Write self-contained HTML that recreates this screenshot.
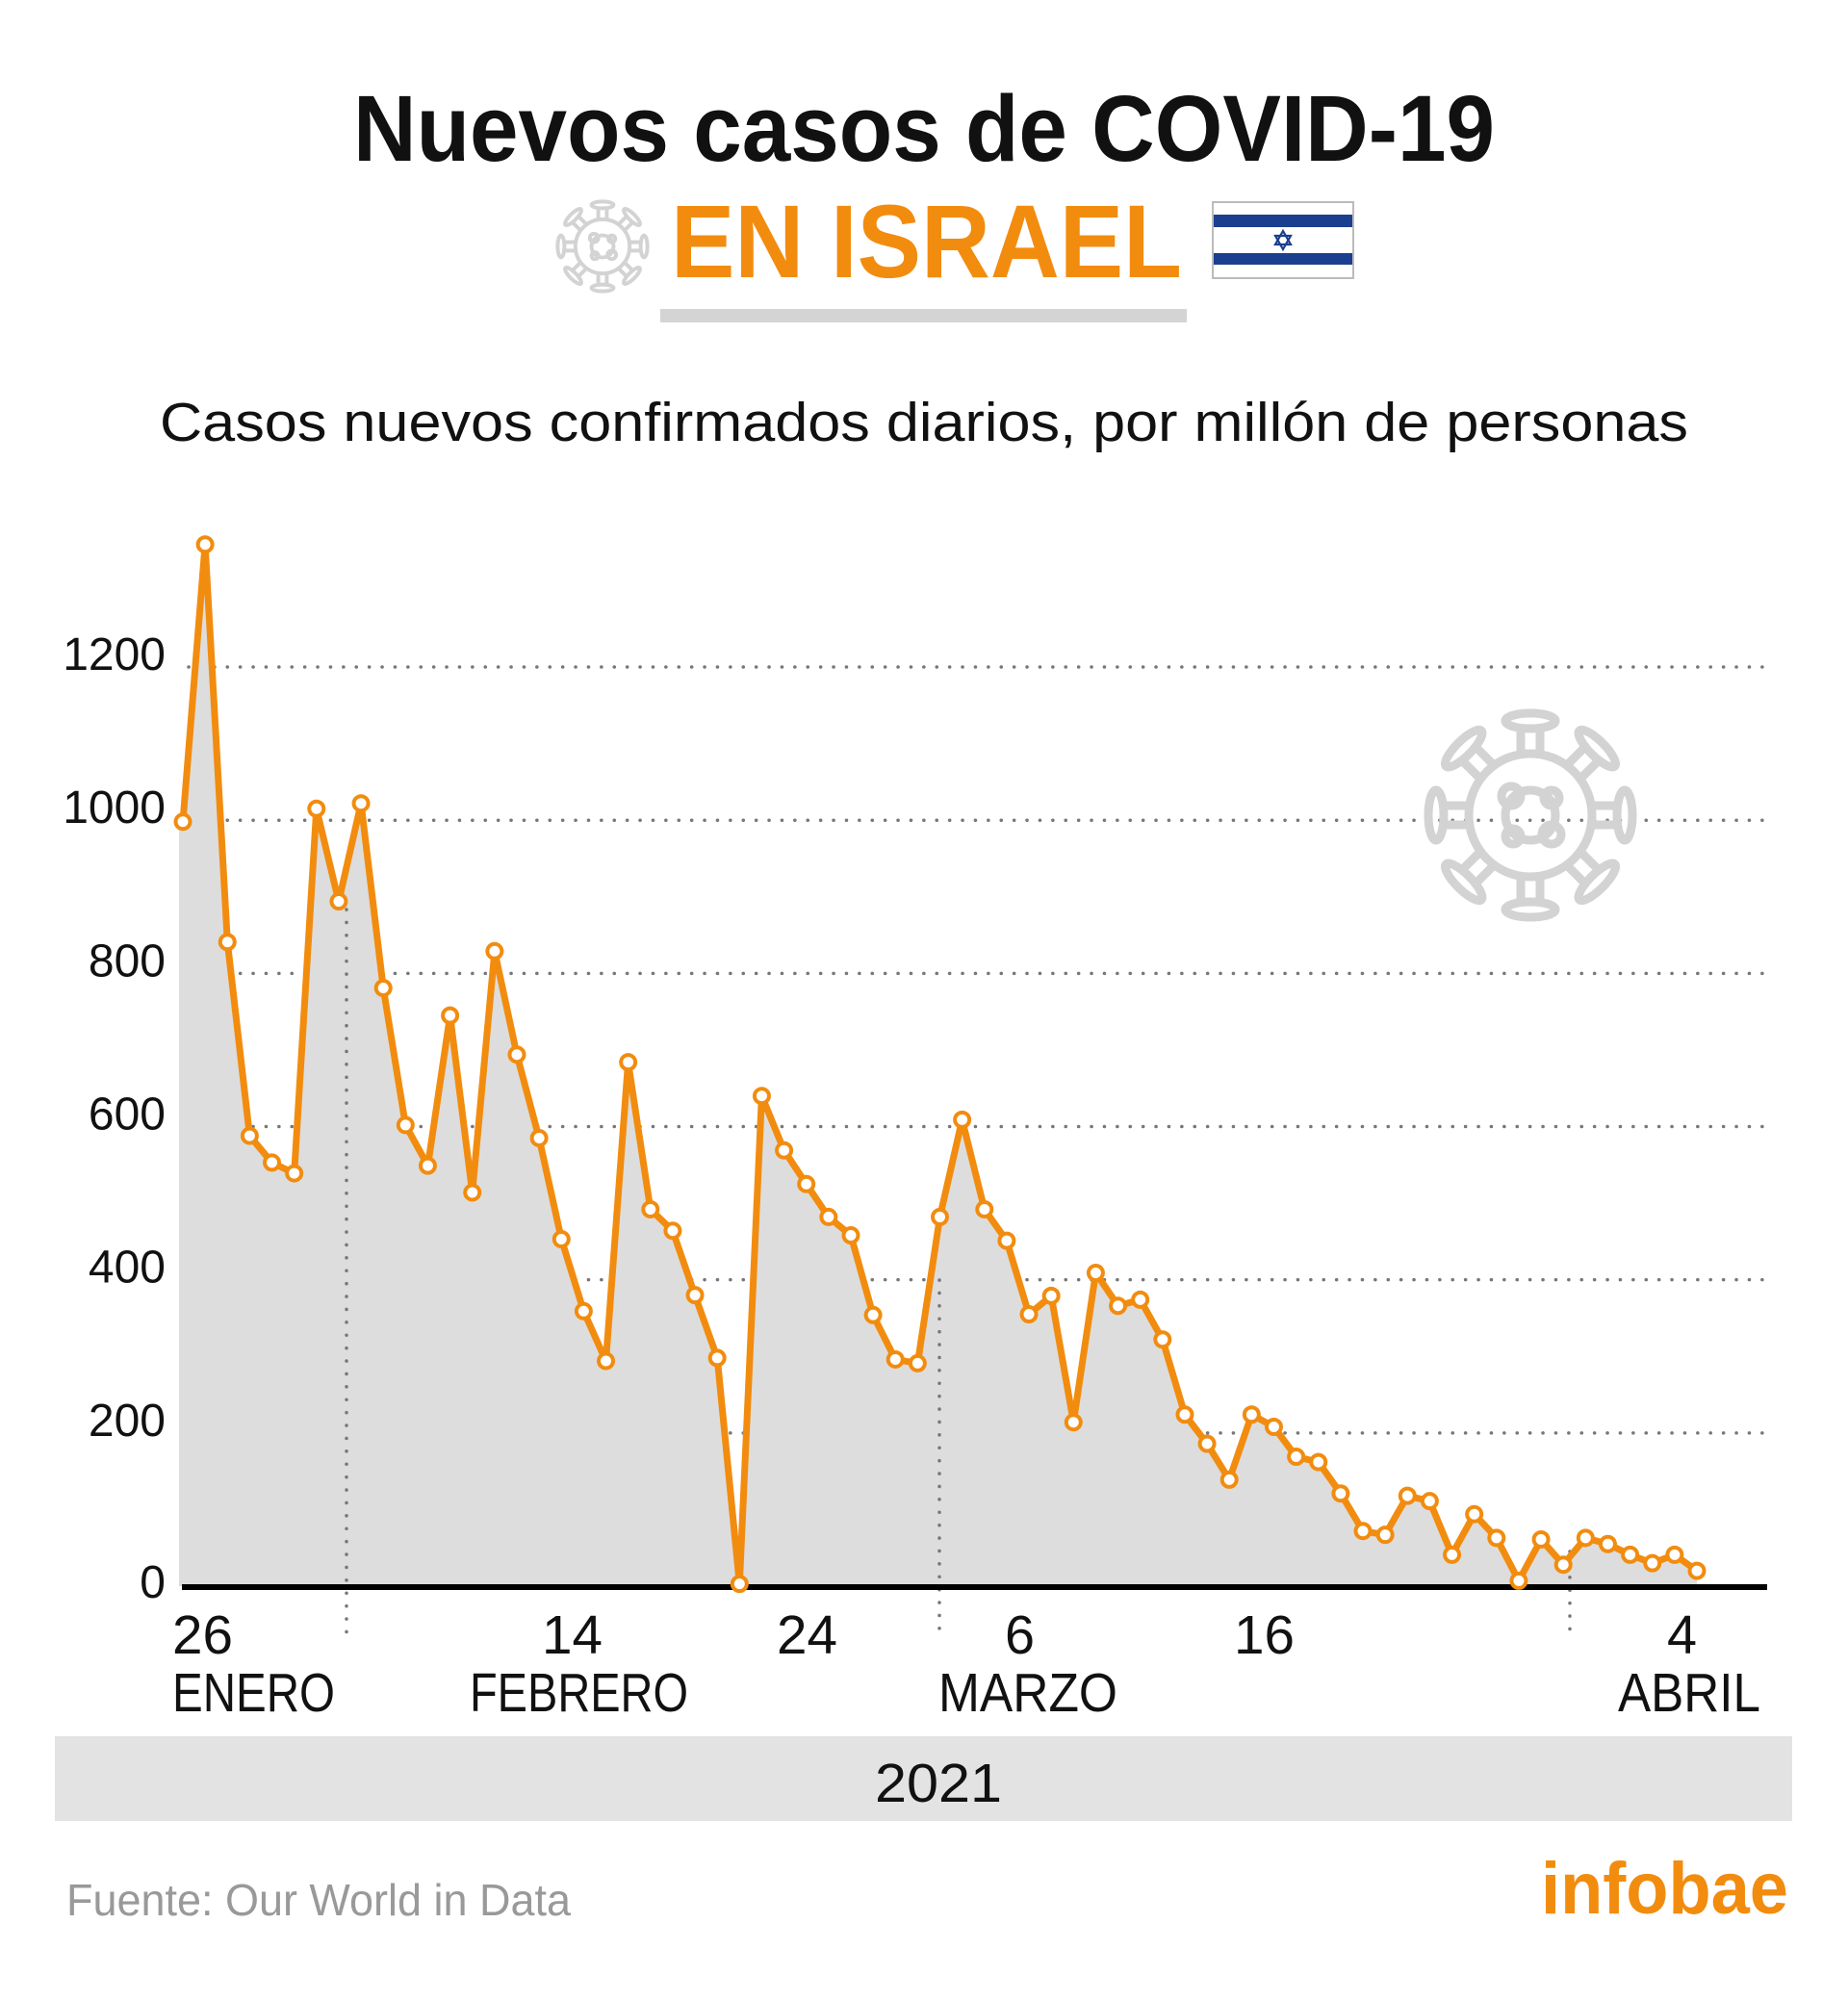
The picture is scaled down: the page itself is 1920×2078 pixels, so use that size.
<!DOCTYPE html>
<html><head><meta charset="utf-8"><style>
html,body{margin:0;padding:0;background:#fff;}
svg{display:block;}
text{font-family:"Liberation Sans",Arial,sans-serif;}
</style></head><body>
<svg id="s" width="1920" height="2078" viewBox="0 0 1920 2078" xmlns="http://www.w3.org/2000/svg">
<defs>
<g id="virus" fill="none" stroke="#d3d3d3" stroke-width="9" stroke-linejoin="round">
  <circle cx="0" cy="0" r="64"/>
  <g id="spike">
    <path d="M-10,-63 L-10,-92 M10,-63 L10,-92"/>
    <ellipse cx="0" cy="-98" rx="26" ry="8"/>
  </g>
  <use href="#spike" transform="rotate(45)"/>
  <use href="#spike" transform="rotate(90)"/>
  <use href="#spike" transform="rotate(135)"/>
  <use href="#spike" transform="rotate(180)"/>
  <use href="#spike" transform="rotate(225)"/>
  <use href="#spike" transform="rotate(270)"/>
  <use href="#spike" transform="rotate(315)"/>
  <circle cx="0" cy="0" r="26"/>
  <circle cx="-20" cy="-20" r="10"/>
  <circle cx="22" cy="-18" r="8"/>
  <circle cx="22" cy="20" r="10"/>
  <circle cx="-18" cy="22" r="8"/>
</g>
</defs>

<text x="960" y="167" font-size="97" font-weight="bold" text-anchor="middle" textLength="1186" lengthAdjust="spacingAndGlyphs" fill="#111">Nuevos casos de COVID-19</text>
<use href="#virus" transform="translate(626,256) scale(0.44)" style="stroke-width:14"/>
<text x="697" y="288" font-size="108" font-weight="bold" textLength="531" lengthAdjust="spacingAndGlyphs" fill="#f28c0f">EN ISRAEL</text>
<rect x="1260" y="210" width="146" height="79" fill="#fff" stroke="#bbb" stroke-width="2"/>
<rect x="1261" y="223" width="144" height="13" fill="#1b3f8f"/>
<rect x="1261" y="263" width="144" height="12" fill="#1b3f8f"/>
<g fill="none" stroke="#1b3f8f" stroke-width="2.2"><polygon points="1333,240 1341,254 1325,254"/><polygon points="1333,259 1341,245 1325,245"/></g>
<rect x="686" y="321" width="547" height="14" fill="#d4d4d4"/>

<text x="960" y="458" font-size="57" text-anchor="middle" textLength="1588" lengthAdjust="spacingAndGlyphs" fill="#111">Casos nuevos confirmados diarios, por millón de personas</text>

<g id="grid" stroke="#777" stroke-width="3.5" stroke-dasharray="0.1 13.3" stroke-linecap="round"></g>
<use href="#virus" transform="translate(1590,847)"/>
<path id="fill" fill="#dddddd"/>
<g stroke="#777" stroke-width="3.5" stroke-dasharray="0.1 13.3" stroke-linecap="round">
  <line x1="360" y1="945" x2="360" y2="1703"/>
  <line x1="976" y1="1330" x2="976" y2="1703"/>
  <line x1="1631" y1="1612" x2="1631" y2="1703"/>
</g>
<line x1="189" y1="1649" x2="1836" y2="1649" stroke="#000" stroke-width="6"/>
<polyline id="line" fill="none" stroke="#f28c0f" stroke-width="7" stroke-linejoin="round"/>
<g id="marks" fill="#fff" stroke="#f28c0f" stroke-width="4"></g>

<g font-size="48" fill="#111" text-anchor="end" id="ylab"></g>

<g font-size="57" fill="#111">
  <text x="179" y="1718" textLength="63" lengthAdjust="spacingAndGlyphs">26</text>
  <text x="563" y="1718" textLength="63" lengthAdjust="spacingAndGlyphs">14</text>
  <text x="807" y="1718" textLength="63" lengthAdjust="spacingAndGlyphs">24</text>
  <text x="1044" y="1718" textLength="31" lengthAdjust="spacingAndGlyphs">6</text>
  <text x="1282" y="1718" textLength="63" lengthAdjust="spacingAndGlyphs">16</text>
  <text x="1732" y="1718" textLength="31" lengthAdjust="spacingAndGlyphs">4</text>
  <text x="179" y="1778" textLength="169" lengthAdjust="spacingAndGlyphs">ENERO</text>
  <text x="488" y="1778" textLength="227" lengthAdjust="spacingAndGlyphs">FEBRERO</text>
  <text x="975" y="1778" textLength="186" lengthAdjust="spacingAndGlyphs">MARZO</text>
  <text x="1681" y="1778" textLength="148" lengthAdjust="spacingAndGlyphs">ABRIL</text>
</g>
<rect x="57" y="1804" width="1805" height="88" fill="#e3e3e3"/>
<text x="975" y="1872" font-size="57" text-anchor="middle" textLength="132" lengthAdjust="spacingAndGlyphs" fill="#111">2021</text>

<text x="69" y="1990" font-size="46" textLength="524" lengthAdjust="spacingAndGlyphs" fill="#999">Fuente: Our World in Data</text>
<text x="1601" y="1988" font-size="76" font-weight="bold" textLength="257" lengthAdjust="spacingAndGlyphs" fill="#f28c0f">infobae</text>
</svg>
<script>
var v=[998,1360,841,588,553,539,1015,894,1022,781,602,549,745,514,829,694,585,453,359,294,684,492,464,380,298,3,640,569,525,482,458,354,296,291,482,609,492,451,355,379,214,409,366,374,322,224,186,139,224,208,169,162,121,72,67,118,111,41,94,63,7,61,28,63,55,41,30,41,20];
var NS="http://www.w3.org/2000/svg";
function Y(val){return 1648-val*0.7958;}
var pts=[],x0=190,dx=(1763-190)/68;
for(var i=0;i<v.length;i++){pts.push((x0+i*dx).toFixed(1)+","+Y(v[i]).toFixed(1));}
document.getElementById("line").setAttribute("points",pts.join(" "));
document.getElementById("fill").setAttribute("d","M186,1648 L186,"+(Y(v[0])+6)+" L"+pts.join(" L")+" L1763,1648 Z");
var m=document.getElementById("marks");
for(var i=0;i<v.length;i++){var c=document.createElementNS(NS,"circle");c.setAttribute("cx",x0+i*dx);c.setAttribute("cy",Y(v[i]));c.setAttribute("r",7.5);m.appendChild(c);}
var g=document.getElementById("grid"),yl=document.getElementById("ylab");
for(var k=0;k<=6;k++){var yy=Y(k*200);
 if(k>0){var l=document.createElementNS(NS,"line");l.setAttribute("x1",196);l.setAttribute("x2",1836);l.setAttribute("y1",yy);l.setAttribute("y2",yy);g.appendChild(l);}
 var t=document.createElementNS(NS,"text");t.setAttribute("x",172);t.setAttribute("y",yy+(k==0?12:3));t.textContent=String(k*200);yl.appendChild(t);}
</script>
</body></html>
